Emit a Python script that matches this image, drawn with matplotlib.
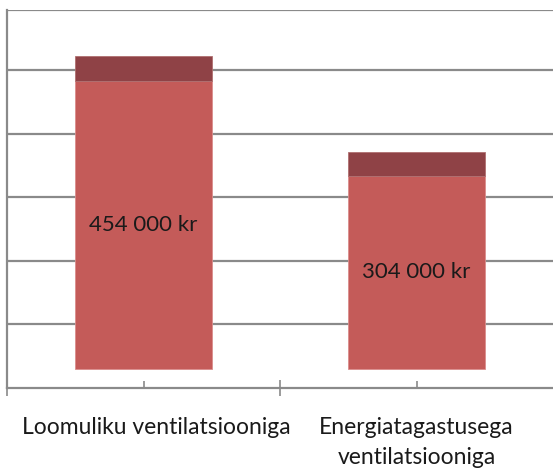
import matplotlib
matplotlib.use("Agg")
import matplotlib.pyplot as plt
from matplotlib.transforms import ScaledTranslation

# data
categories = ["Loomuliku ventilatsiooniga", "Energiatagastusega\nventilatsiooniga"]
base = [30000, 30000]          # invisible offset segment
main_values = [454000, 304000]  # labelled red segment
top_values = [38000, 38000]     # dark cap segment
value_labels = ["454 000 kr", "304 000 kr"]

plt.rcParams['font.family'] = ['Lato', 'DejaVu Sans']

fig = plt.figure(figsize=(5.53, 4.70), dpi=100)
ax = fig.add_axes([7/553, 82/470, 1 - 7/553, 378/470])

x = range(len(categories))
red = '#C45B59'
dark = '#8F4246'
grey = '#8A8A8A'

ax.bar(x, base, width=0.5, color='none')
ax.bar(x, main_values, width=0.5, bottom=base, color=red, edgecolor='#DA8E8C', linewidth=0.6, zorder=3)
tops = [b + m for b, m in zip(base, main_values)]
ax.bar(x, top_values, width=0.5, bottom=tops, color=dark, edgecolor='#B07070', linewidth=0.6, zorder=3)

for i in x:
    ax.text(i, base[i] + main_values[i] / 2, value_labels[i], ha='center', va='center',
            fontsize=16, color='#1a1a1a', zorder=4)

ax.set_xlim(-0.5, 1.5)
ax.set_ylim(0, 595000)
ax.set_yticks([100000 * k for k in range(1, 6)] + [595000])
ax.yaxis.grid(True, color=grey, linewidth=1.6)
ax.set_axisbelow(True)
ax.tick_params(axis='y', length=0, labelleft=False)

ax.set_xticks(list(x))
ax.set_xticklabels(categories, fontsize=16.5, color='#1a1a1a', linespacing=1.5)
ax.tick_params(axis='x', direction='in', length=5, width=1.2, color=grey, pad=21)
ax.set_xticks([-0.5, 0.5], minor=True)
ax.tick_params(axis='x', which='minor', direction='inout', length=12, width=1.2, color=grey)

# first label sits a little right of its bar in the original
lab = ax.get_xticklabels()[0]
lab.set_transform(lab.get_transform() + ScaledTranslation(13/100, 0, fig.dpi_scale_trans))

for s in ['top', 'right']:
    ax.spines[s].set_visible(False)
for s in ['left', 'bottom']:
    ax.spines[s].set_color(grey)
    ax.spines[s].set_linewidth(1.6)

fig.savefig('out.png', dpi=100)
